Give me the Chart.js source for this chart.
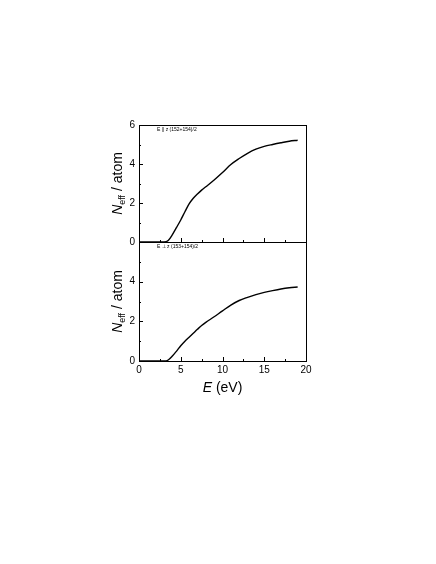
<!DOCTYPE html>
<html>
<head>
<meta charset="utf-8">
<script src="https://cdn.jsdelivr.net/npm/chart.js@4"></script>
<style>
  body { margin: 0; background: #fff; }
  #wrap { position: relative; width: 436px; height: 564px; }
  canvas { position: absolute; left: 0; }
</style>
</head>
<body>
<div id="wrap">
  <canvas id="top" width="436" height="252" style="top:0"></canvas>
  <canvas id="bottom" width="436" height="200" style="top:230px"></canvas>
</div>
<script>
// photon energy (eV)
const energy = [0, 1, 2, 3, 3.5, 4, 4.5, 5, 5.5, 6, 6.5, 7, 7.5, 8, 9, 10, 11, 12, 13, 14, 15, 16, 17, 18, 19];
// N_eff per atom, E || z
const neffPar = [0, 0, 0, 0, 0.08, 0.38, 0.75, 1.13, 1.55, 1.95, 2.24, 2.46, 2.66, 2.83, 3.18, 3.56, 3.97, 4.28, 4.55, 4.76, 4.9, 5.0, 5.09, 5.17, 5.22];
// N_eff per atom, E ⊥ z
const neffPerp = [0, 0, 0, 0, 0.05, 0.25, 0.5, 0.77, 1.0, 1.2, 1.4, 1.6, 1.79, 1.95, 2.23, 2.53, 2.82, 3.05, 3.21, 3.35, 3.46, 3.55, 3.63, 3.69, 3.73];
const xTicks = [0, 5, 10, 15, 20];
const yTicks = [0, 2, 4, 6];
const notes = ['E || z (152+154)/2', 'E \u22a5 z (153+154)/2'];

const FONT = "'Liberation Sans', Arial, sans-serif";

// box, inward ticks, axis titles and the small note
const decor = {
  id: 'decor',
  afterDatasetsDraw(chart, args, opts) {
    const { ctx, chartArea: a, scales: { x, y } } = chart;
    ctx.save();
    ctx.strokeStyle = '#000';
    ctx.lineWidth = 1;
    ctx.strokeRect(a.left + 0.5, a.top + 0.5, a.right - a.left, a.bottom - a.top);
    ctx.beginPath();
    for (let v = 0; v <= 20; v += 2.5) {
      const px = Math.round(x.getPixelForValue(v)) + 0.5;
      const len = v % 5 === 0 ? 4 : 2;
      ctx.moveTo(px, a.bottom);
      ctx.lineTo(px, a.bottom - len);
    }
    for (let v = 0; v <= 6; v += 1) {
      const py = Math.round(y.getPixelForValue(v)) + 0.5;
      const len = v % 2 === 0 ? 4 : 2;
      ctx.moveTo(a.left, py);
      ctx.lineTo(a.left + len, py);
    }
    ctx.stroke();

    // note in the corner
    ctx.fillStyle = '#000';
    ctx.font = '5px ' + FONT;
    ctx.textBaseline = 'middle';
    ctx.fillText(opts.note, a.left + 18, a.top + 5);

    // y title: N_eff / atom
    ctx.translate(a.left - 27, (a.top + a.bottom) / 2);
    ctx.rotate(-Math.PI / 2);
    ctx.font = 'italic 14px ' + FONT;
    const w1 = ctx.measureText('N').width;
    ctx.font = '9px ' + FONT;
    const w2 = ctx.measureText('eff').width;
    ctx.font = '14px ' + FONT;
    const w3 = ctx.measureText(' / atom').width;
    let sx = -(w1 + w2 + w3) / 2;
    ctx.textBaseline = 'alphabetic';
    ctx.font = 'italic 14px ' + FONT;
    ctx.fillText('N', sx, 10);
    sx += w1;
    ctx.font = '9px ' + FONT;
    ctx.fillText('eff', sx, 13);
    sx += w2;
    ctx.font = '14px ' + FONT;
    ctx.fillText(' / atom', sx, 10);
    ctx.restore();

    if (opts.xTitle) {
      ctx.save();
      ctx.fillStyle = '#000';
      ctx.font = 'italic 14px ' + FONT;
      const e = ctx.measureText('E').width;
      ctx.font = '14px ' + FONT;
      const r = ctx.measureText(' (eV)').width;
      let x0 = (a.left + a.right) / 2 - (e + r) / 2;
      const y0 = a.bottom + 27;
      ctx.textBaseline = 'middle';
      ctx.font = 'italic 14px ' + FONT;
      ctx.fillText('E', x0, y0);
      ctx.font = '14px ' + FONT;
      ctx.fillText(' (eV)', x0 + e, y0);
      ctx.restore();
    }
  }
};

function makePanel(id, values, note, showX, pad) {
  new Chart(document.getElementById(id), {
    type: 'line',
    data: {
      datasets: [{
        data: energy.map((e, i) => ({ x: e, y: values[i] })),
        borderColor: '#000',
        borderWidth: 1.4,
        pointRadius: 0,
        cubicInterpolationMode: 'monotone',
        fill: false
      }]
    },
    options: {
      responsive: false,
      animation: false,
      layout: { padding: pad },
      plugins: {
        legend: { display: false },
        tooltip: { enabled: false },
        decor: { note: note, xTitle: showX }
      },
      scales: {
        x: {
          type: 'linear',
          min: 0,
          max: 20,
          display: showX,
          grid: { display: false, drawTicks: false },
          border: { display: false },
          afterBuildTicks: s => { s.ticks = xTicks.map(v => ({ value: v })); },
          afterFit: s => { s.height = showX ? 20 : 0; },
          ticks: { color: '#000', font: { family: FONT, size: 10 }, padding: 3, maxRotation: 0 }
        },
        y: {
          min: 0,
          max: 6,
          grid: { display: false, drawTicks: false },
          border: { display: false },
          afterBuildTicks: s => { s.ticks = yTicks.filter(v => showX ? v < 6 : true).map(v => ({ value: v })); },
          afterFit: s => { s.width = 30; },
          ticks: { color: '#000', font: { family: FONT, size: 10 }, padding: 4 }
        }
      }
    },
    plugins: [decor]
  });
}

makePanel('top', neffPar, notes[0], false, { left: 109, right: 130, top: 125, bottom: 6 });
makePanel('bottom', neffPerp, notes[1], true, { left: 109, right: 130, top: 12, bottom: 49 });
</script>
</body>
</html>
